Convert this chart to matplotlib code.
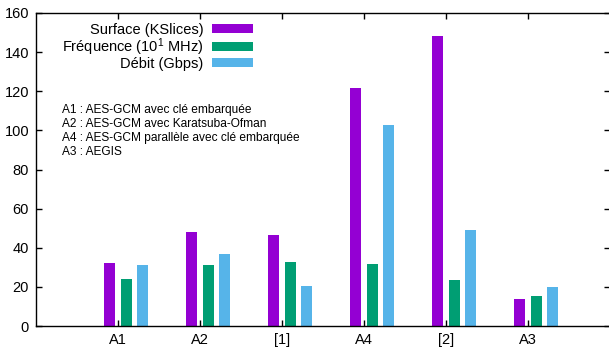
import numpy as np
import matplotlib
matplotlib.use("Agg")
import matplotlib.pyplot as plt

plt.rcParams['font.family'] = ['Liberation Sans', 'DejaVu Sans']
plt.rcParams['mathtext.fontset'] = 'custom'
plt.rcParams['mathtext.rm'] = 'Liberation Sans'
plt.rcParams['mathtext.it'] = 'Liberation Sans'

categories = ['A1', 'A2', '[1]', 'A4', '[2]', 'A3']
surface = [32, 48, 46.5, 121.5, 148, 14]
frequence = [24, 31, 32.5, 31.5, 23.5, 15.5]
debit = [31, 37, 20.5, 102.5, 49, 20]

series_labels = ['Surface (KSlices)', 'Fréquence (10$^{1}$ MHz)', 'Débit (Gbps)']
colors = ['#9400d3', '#009e73', '#56b4e9']

notes = ['A1 : AES-GCM avec clé embarquée',
         'A2 : AES-GCM avec Karatsuba-Ofman',
         'A4 : AES-GCM parallèle avec clé embarquée',
         'A3 : AEGIS']

W, H = 609, 350
fig = plt.figure(figsize=(W / 100, H / 100), dpi=100)
ax = fig.add_axes([36 / W, 24 / H, 574 / W, 313 / H])

x = np.arange(1, len(categories) + 1)
offsets = [-0.1, 0.1, 0.3]
width = 0.135
for vals, off, col, lab in zip([surface, frequence, debit], offsets, colors, series_labels):
    ax.bar(x + off, vals, width, color=col, label=lab, edgecolor='none')

ax.set_xlim(0, 7)
ax.set_ylim(0, 160)
ax.set_xticks(x)
ax.set_xticklabels(categories)
ax.set_yticks(np.arange(0, 161, 20))
ax.tick_params(direction='in', length=4, width=1, labelsize=10.5,
               top=True, right=True, pad=5)
for s in ax.spines.values():
    s.set_linewidth(1.0)

leg = ax.legend(loc='upper right', bbox_to_anchor=(253 / W, 1 - 23 / H),
                bbox_transform=fig.transFigure, markerfirst=False, frameon=False,
                fontsize=10.5, handlelength=2.8, handleheight=0.6,
                handletextpad=0.6, labelspacing=-0.06, borderpad=0, borderaxespad=0)

for i, t in enumerate(notes):
    fig.text(62 / W, 1 - (110 + 14 * i) / H, t, fontsize=8.6, va='center', ha='left')

fig.savefig('out.png', dpi=100)
